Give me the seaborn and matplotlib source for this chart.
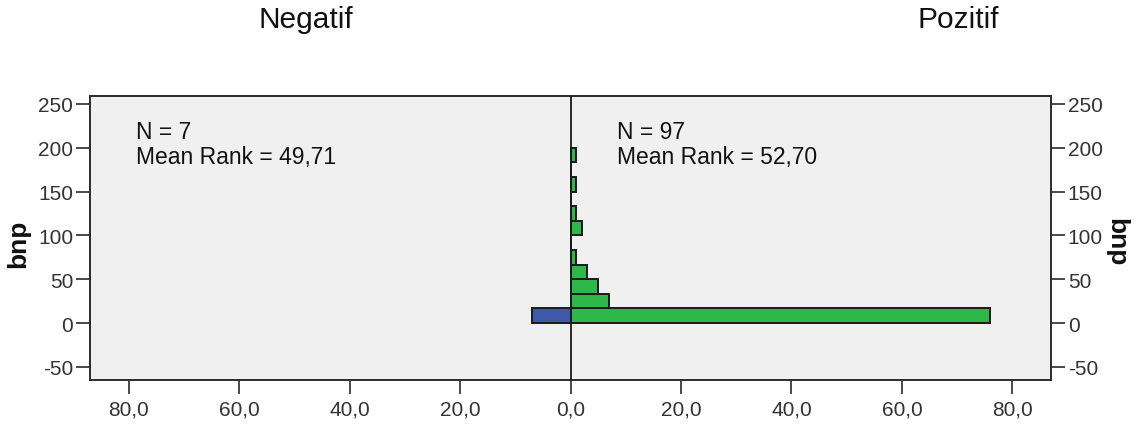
import numpy as np
import pandas as pd
import matplotlib
matplotlib.use("Agg")
import matplotlib.pyplot as plt
import seaborn as sns

# Histogram bins for bnp (width 250/15), counts per side of the split
bin_edges = [i * 250 / 15 for i in range(13)]
neg_counts = [7, 0, 0, 0, 0, 0, 0, 0, 0, 0, 0, 0]
pos_counts = [76, 7, 5, 3, 1, 0, 2, 1, 0, 1, 0, 1]

side_titles = ["Negatif", "Pozitif"]
neg_note = "N = 7\nMean Rank = 49,71"
pos_note = "N = 97\nMean Rank = 52,70"
var_name = "bnp"

x_ticks = [-80, -60, -40, -20, 0, 20, 40, 60, 80]
y_ticks = [-50, 0, 50, 100, 150, 200, 250]

sns.set_style("white")
plt.rcParams["font.family"] = ["Liberation Sans", "DejaVu Sans"]

W, H = 1141, 427
fig = plt.figure(figsize=(W / 100, H / 100), dpi=100)
ax = fig.add_axes([90 / W, (H - 381) / H, (1051 - 90) / W, (381 - 97) / H])
ax.set_facecolor("#f0f0f0")

edges = np.asarray(bin_edges)
centers = (edges[:-1] + edges[1:]) / 2
neg_df = pd.DataFrame({var_name: centers, "count": -np.asarray(neg_counts, float)})
pos_df = pd.DataFrame({var_name: centers, "count": np.asarray(pos_counts, float)})

bar_kw = dict(bins=list(bin_edges), stat="count", element="bars", alpha=1,
              edgecolor="#1a1a1a", linewidth=1.4)
sns.histplot(data=neg_df, y=var_name, weights="count", color="#3f58a9", ax=ax, **bar_kw)
sns.histplot(data=pos_df, y=var_name, weights="count", color="#2fb84a", ax=ax, **bar_kw)

ax.axvline(0, color="#1a1a1a", lw=1.3, zorder=5)

ax.set_xlim(-87, 87)
ax.set_ylim(-65, 259)
ax.set_xticks(x_ticks)
ax.set_xticklabels([f"{abs(v):.1f}".replace(".", ",") for v in x_ticks])
ax.set_yticks(y_ticks)
ax.set_yticklabels([str(v) for v in y_ticks])
ax.set_xlabel("")
ax.set_ylabel("")

for s in ax.spines.values():
    s.set_color("#2b2b2b")
    s.set_linewidth(1.4)

ax.tick_params(axis="both", which="major", direction="out", length=10, width=1.2,
               color="#2b2b2b", labelsize=15, labelcolor="#333333")
ax.tick_params(axis="y", left=True, right=True, labelleft=True, labelright=True, pad=2)
ax.tick_params(axis="x", bottom=True, pad=4)

ax.text(-78.6, 231.5, neg_note, va="top", ha="left", fontsize=16.5,
        linespacing=1.08, color="#111111")
ax.text(8.4, 231.5, pos_note, va="top", ha="left", fontsize=16.5,
        linespacing=1.08, color="#111111")

fig.text(306 / W, 1 - 28 / H, side_titles[0], ha="center", va="baseline",
         fontsize=21.5, color="#111111")
fig.text(958 / W, 1 - 28 / H, side_titles[1], ha="center", va="baseline",
         fontsize=21.5, color="#111111")

fig.text(18 / W, 1 - 244 / H, var_name, rotation=90, ha="center", va="center",
         fontsize=19, fontweight="bold", color="#111111")
fig.text(1116 / W, 1 - 242 / H, var_name, rotation=-90, ha="center", va="center",
         fontsize=19, fontweight="bold", color="#111111")

fig.savefig("out.png", dpi=100, facecolor="white")
